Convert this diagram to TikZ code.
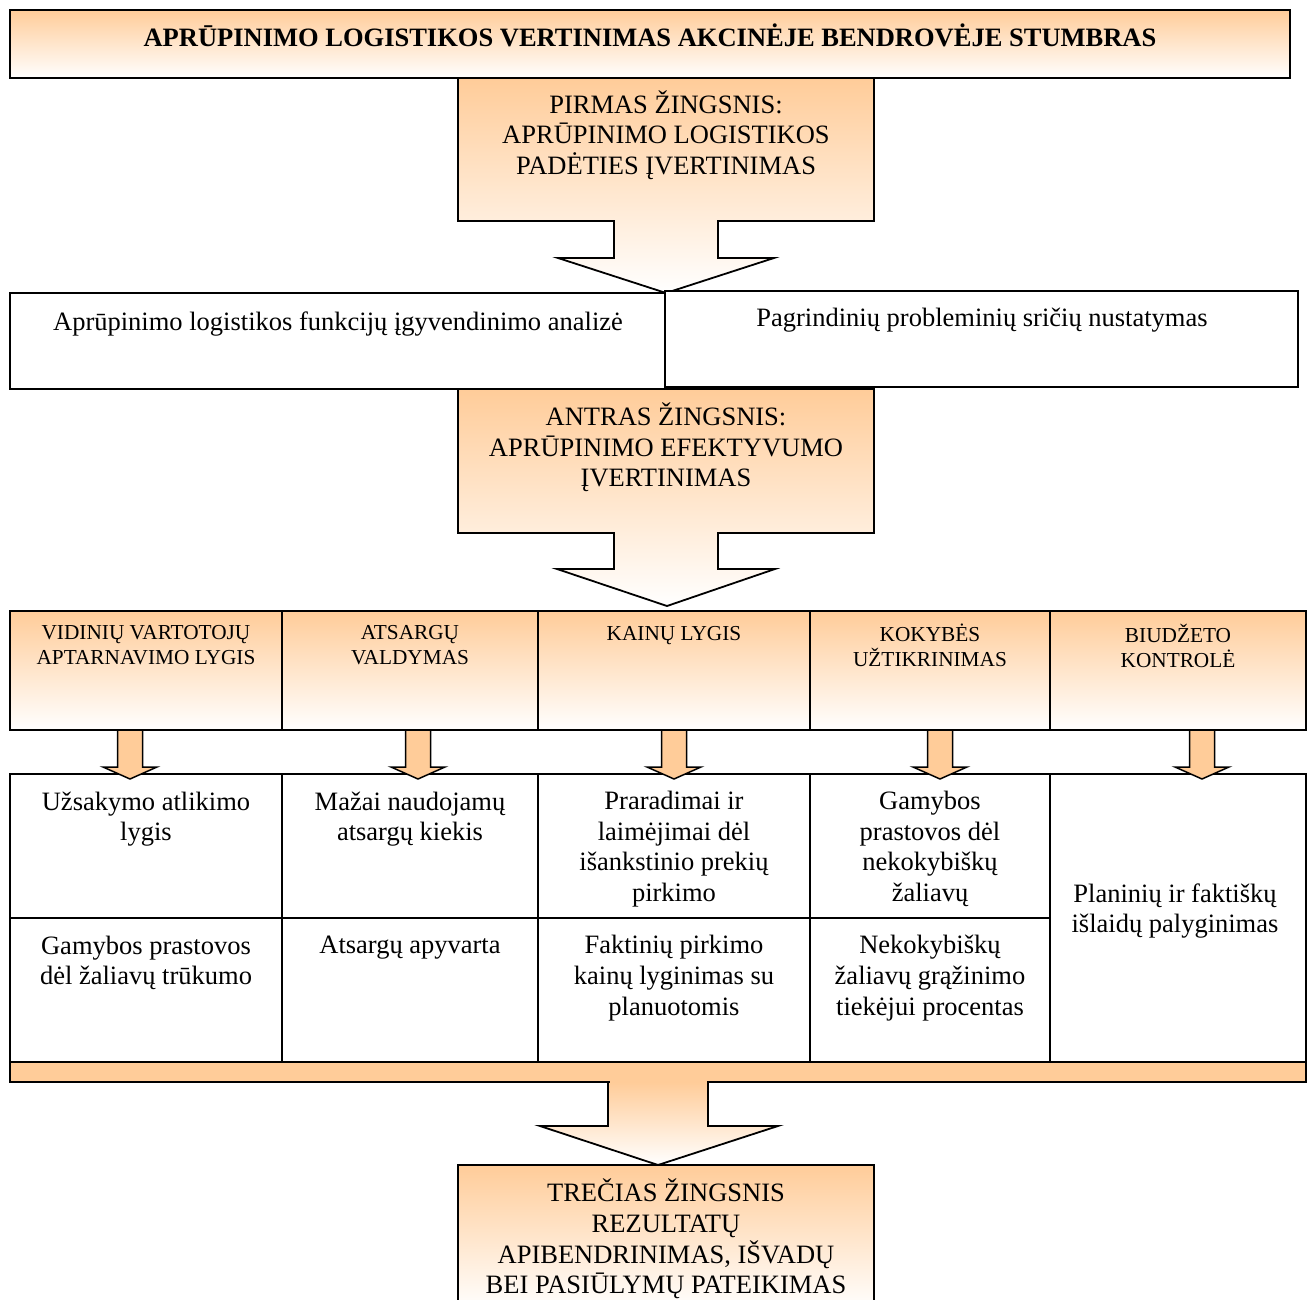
\documentclass[tikz,border=0pt]{standalone}
\usepackage{fontspec}
\setmainfont{Liberation Serif}
\definecolor{peach}{HTML}{FFCC99}
\tikzset{
  outline/.style={draw=black, line width=1.8pt, line join=miter},
  thin outline/.style={draw=black, line width=1.5pt},
  grad/.style={top color=peach, bottom color=white},
  bodytext/.style={font=\fontsize{26.5}{30.7}\selectfont, align=center, inner sep=0pt},
  headtext/.style={font=\fontsize{21.3}{25}\selectfont, align=center, inner sep=0pt},
  titletext/.style={font=\fontsize{26.5}{30.7}\selectfont\bfseries, align=center, inner sep=0pt},
}
\begin{document}
\begin{tikzpicture}[x=1pt, y=-1pt]
\useasboundingbox (0,0) rectangle (1312,1300);
\clip (0,0) rectangle (1312,1300);

% title banner
\path[outline, grad] (10,10) rectangle (1290,78);
\node[titletext] (title) at (650,35.5) {APRŪPINIMO LOGISTIKOS VERTINIMAS AKCINĖJE BENDROVĖJE STUMBRAS};

% step one callout with block arrow
\path[outline, grad] (458,78) -- (874,78) -- (874,221) -- (718,221) -- (718,258)
  -- (774,258) -- (666,293) -- (558,258) -- (614,258) -- (614,221) -- (458,221) -- cycle;
\node[bodytext] (step1) at (666,135) {PIRMAS ŽINGSNIS:\\APRŪPINIMO LOGISTIKOS\\PADĖTIES ĮVERTINIMAS};

% analysis boxes
\path[outline, fill=white] (10,293) rectangle (665,389);
\path[outline, fill=white] (665,291) rectangle (1298,387);
\node[bodytext] (ana1) at (338,324) {Aprūpinimo logistikos funkcijų įgyvendinimo analizė};
\node[bodytext] (ana2) at (982,320) {Pagrindinių probleminių sričių nustatymas};

% step two callout with block arrow
\path[outline, grad] (458,389) -- (874,389) -- (874,533) -- (718,533) -- (718,569)
  -- (775,569) -- (667,606) -- (557,569) -- (614,569) -- (614,533) -- (458,533) -- cycle;
\node[bodytext] (step2) at (666,447.5) {ANTRAS ŽINGSNIS:\\APRŪPINIMO EFEKTYVUMO\\ĮVERTINIMAS};

% criteria header row
\path[grad] (10,611) rectangle (1306,730);
\foreach \xa/\xb in {10/282, 282/538, 538/810, 810/1050, 1050/1306}
  \path[outline] (\xa,611) rectangle (\xb,730);
\node[headtext] (h1) at (146,645.5) {VIDINIŲ VARTOTOJŲ\\APTARNAVIMO LYGIS};
\node[headtext] (h2) at (410,645.5) {ATSARGŲ\\VALDYMAS};
\node[headtext] (h3) at (674,636) {KAINŲ LYGIS};
\node[headtext] (h4) at (930,645.5) {KOKYBĖS\\UŽTIKRINIMAS};
\node[headtext] (h5) at (1178,645.5) {BIUDŽETO\\KONTROLĖ};

% indicator grid
\foreach \xa/\xb in {10/282, 282/538, 538/810, 810/1050} {
  \path[outline, fill=white] (\xa,774) rectangle (\xb,918);
  \path[outline, fill=white] (\xa,918) rectangle (\xb,1062);
}
\path[outline, fill=white] (1050,774) rectangle (1306,1062);

\node[bodytext] (d1) at (146,819) {Užsakymo atlikimo\\lygis};
\node[bodytext] (d2) at (410,819) {Mažai naudojamų\\atsargų kiekis};
\node[bodytext] (d3) at (674,849) {Praradimai ir\\laimėjimai dėl\\išankstinio prekių\\pirkimo};
\node[bodytext] (d4) at (930,849) {Gamybos\\prastovos dėl\\nekokybiškų\\žaliavų};
\node[bodytext] (e1) at (146,963) {Gamybos prastovos\\dėl žaliavų trūkumo};
\node[bodytext] (e2) at (410,948) {Atsargų apyvarta};
\node[bodytext] (e3) at (674,978) {Faktinių pirkimo\\kainų lyginimas su\\planuotomis};
\node[bodytext] (e4) at (930,978) {Nekokybiškų\\žaliavų grąžinimo\\tiekėjui procentas};
\node[bodytext] (d5) at (1175,911) {Planinių ir faktiškų\\išlaidų palyginimas};

% small arrows from criteria to indicators
\foreach \ax in {130,418,674,940,1202}
  \path[thin outline, fill=peach] (\ax-12.5,730) -- (\ax+12.5,730) -- (\ax+12.5,767)
    -- (\ax+27,767) -- (\ax,779) -- (\ax-27,767) -- (\ax-12.5,767) -- cycle;

% collecting bar and final arrow
\path[outline, fill=peach] (10,1062) rectangle (1306,1082);
\path[outline, top color=peach, bottom color=white] (608,1082) -- (708,1082) -- (708,1126)
  -- (778,1126) -- (658,1165) -- (540,1126) -- (608,1126) -- cycle;
\path[fill=peach] (609.5,1075) rectangle (706.5,1083);

% step three box
\path[outline, grad] (458,1165) rectangle (874,1310);
\node[bodytext] (step3) at (666,1239) {TREČIAS ŽINGSNIS\\REZULTATŲ\\APIBENDRINIMAS, IŠVADŲ\\BEI PASIŪLYMŲ PATEIKIMAS};
\end{tikzpicture}
\end{document}
